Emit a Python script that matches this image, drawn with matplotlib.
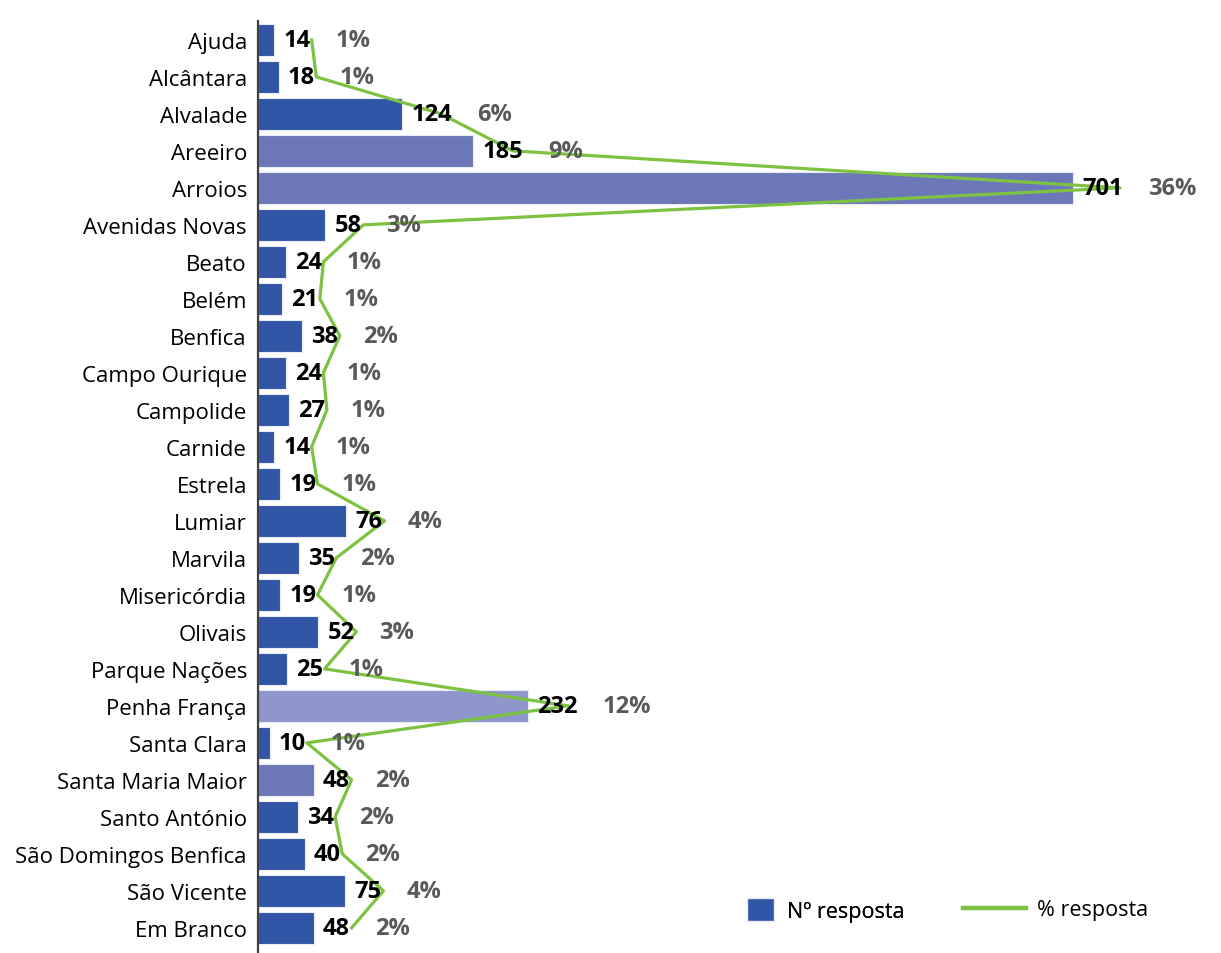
import numpy as np
import matplotlib.pyplot as plt
from matplotlib.patches import Patch
from matplotlib.lines import Line2D

plt.rcParams['font.family'] = ['Open Sans', 'DejaVu Sans']

# Data
freguesias = ['Ajuda', 'Alcântara', 'Alvalade', 'Areeiro', 'Arroios', 'Avenidas Novas',
              'Beato', 'Belém', 'Benfica', 'Campo Ourique', 'Campolide', 'Carnide',
              'Estrela', 'Lumiar', 'Marvila', 'Misericórdia', 'Olivais', 'Parque Nações',
              'Penha França', 'Santa Clara', 'Santa Maria Maior', 'Santo António',
              'São Domingos Benfica', 'São Vicente', 'Em Branco']
respostas = [14, 18, 124, 185, 701, 58, 24, 21, 38, 24, 27, 14, 19, 76, 35, 19,
             52, 25, 232, 10, 48, 34, 40, 75, 48]

pct = np.array(respostas) / sum(respostas)

# bar colours (a few freguesias highlighted)
azul = '#3056A5'
destaque = {'Areeiro': '#6C77B8', 'Arroios': '#6C77B8',
            'Penha França': '#8E96CB', 'Santa Maria Maior': '#6C77B8'}
cores = [destaque.get(f, azul) for f in freguesias]

fig = plt.figure(figsize=(12.21, 9.54), dpi=100)
ax = fig.add_axes([258 / 1221, 0, (1150 - 258) / 1221, (954 - 22) / 954])

y = np.arange(len(freguesias))
ax.barh(y, respostas, height=0.87, color=cores, edgecolor='#E8ECF6', linewidth=0.8)
ax.set_xlim(0, 767)
ax.set_ylim(24.68, -0.51)
ax.set_yticks(y)
ax.set_yticklabels(freguesias, fontsize=16)
ax.tick_params(axis='y', length=0, pad=8)
ax.set_xticks([])
for s in ['top', 'right', 'bottom']:
    ax.spines[s].set_visible(False)
ax.spines['left'].set_color('#404040')
ax.spines['left'].set_linewidth(1.6)

# percentage line on a secondary axis
ax2 = ax.twiny()
ax2.plot(pct, y, color='#7DC242', linewidth=2.3, zorder=3)
ax2.set_xlim(-0.0161, 0.3705)
ax2.set_ylim(24.68, -0.51)
ax2.axis('off')

# labels
for yi, v, p in zip(y, respostas, pct):
    t = ax2.annotate(str(v), xy=(v, yi), xycoords=ax.transData,
                     xytext=(6.5, 0), textcoords='offset points',
                     ha='left', va='center', fontsize=17, fontweight='bold',
                     color='black', zorder=5)
    ax2.annotate(f'{p:.0%}', xy=(1, 0.5), xycoords=t,
                 xytext=(18, 0), textcoords='offset points',
                 ha='left', va='center', fontsize=17, fontweight='bold',
                 color='#595959', zorder=5)

# legend
leg1 = fig.legend(handles=[Patch(facecolor=azul, edgecolor='#E8ECF6', label='Nº resposta')],
                  loc='center left', bbox_to_anchor=(728 / 1221, 1 - 911 / 954),
                  frameon=False, fontsize=15.5, handlelength=1.25, handleheight=1.25,
                  handletextpad=0.6)
fig.legend(handles=[Line2D([], [], color='#7DC242', linewidth=3.2, label='% resposta')],
           loc='center left', bbox_to_anchor=(944 / 1221, 1 - 911 / 954),
           frameon=False, fontsize=15.5, handlelength=2.9, handletextpad=0.5)
fig.add_artist(leg1)

fig.savefig('out.png', dpi=100)
